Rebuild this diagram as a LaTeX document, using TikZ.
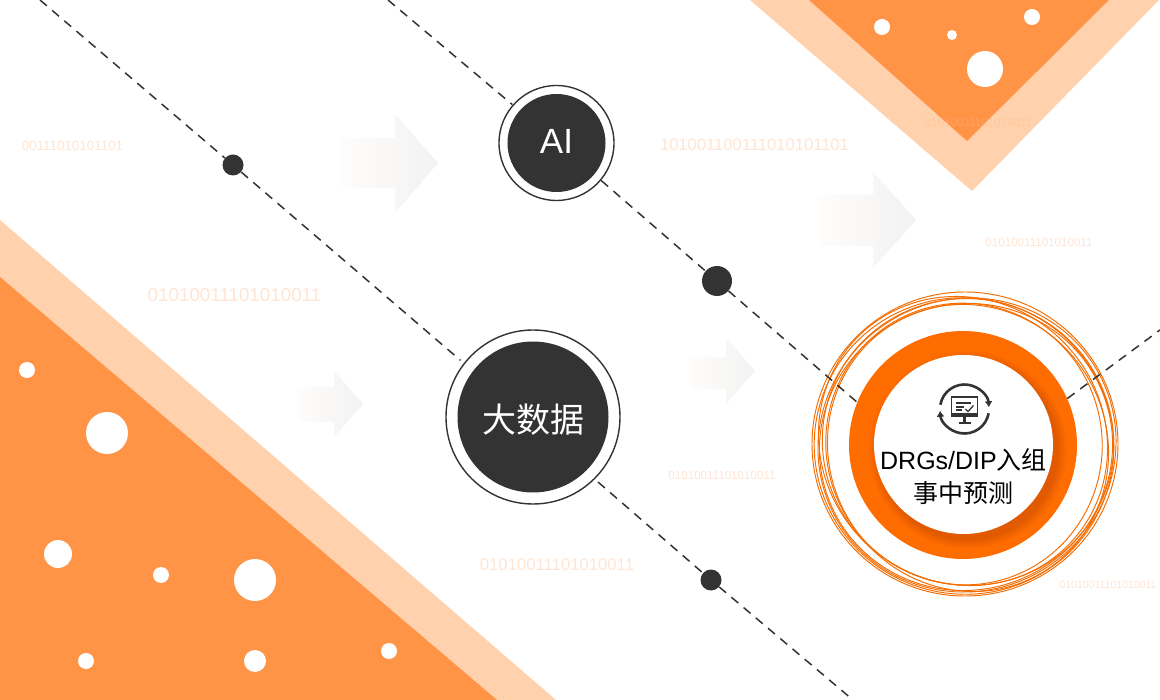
\documentclass[tikz,border=0pt]{standalone}
\usepackage{fontspec}
\setmainfont{Liberation Sans}
\newfontfamily\cjk{Noto Sans CJK SC}
\usetikzlibrary{arrows.meta}
\definecolor{deeporange}{HTML}{FF9447}
\definecolor{lightorange}{HTML}{FFD1AD}
\definecolor{ringorange}{HTML}{FF6D00}
\definecolor{wireorange}{HTML}{F56C00}
\definecolor{hubdark}{HTML}{333333}
\definecolor{bitcolor}{HTML}{FFB98A}
\definecolor{palestart}{HTML}{FFFDFB}
\definecolor{paleend}{HTML}{F2F2F2}
\begin{document}
\begin{tikzpicture}[
  x=1pt,y=-1pt,
  link/.style={dash pattern=on 9pt off 7pt,line width=1.5pt,draw=hubdark},
  joint/.style={circle,fill=hubdark,inner sep=0pt},
  hubring/.style={circle,draw=hubdark,line width=1.4pt,fill=white,inner sep=0pt},
  hubcore/.style={circle,fill=hubdark,inner sep=0pt},
  hubtext/.style={text=white,inner sep=0pt},
  bits/.style={text=bitcolor,text opacity=0.37,inner sep=0pt},
  palearrow/.style={left color=palestart,right color=paleend,draw=none},
  wire/.style={draw=wireorange,line width=0.95pt},
  iconline/.style={draw=hubdark,line width=2.6pt},
]
  \useasboundingbox (0,0) rectangle (1160,700);
  \fill[white] (0,0) rectangle (1160,700);
  % corner bands
  \fill[lightorange] (0,220) -- (556,700) -- (0,700) -- cycle;
  \fill[deeporange]  (0,277) -- (497,700) -- (0,700) -- cycle;
  \fill[lightorange] (750,0) -- (972,191) -- (1159,0) -- cycle;
  \fill[deeporange]  (809,0) -- (967,141) -- (1109,0) -- cycle;
  \foreach \px/\py/\pr in {27/370/8,107/433/21,58/554/14,161/575/8,255/580/21,86/661/8,255/661/11,389/651/8,
                           882/27/8,952/35/5,1032/17/8,985/69/18}
    \fill[white] (\px,\py) circle [radius=\pr];
  % arrows
  \shade[palearrow] (340,138) -- (395,138) -- (395,114) -- (438,163) -- (395,213) -- (395,188) -- (340,188) -- cycle;
  \shade[palearrow] (818,195) -- (873,195) -- (873,172) -- (916,220) -- (873,268) -- (873,246) -- (818,246) -- cycle;
  \shade[palearrow] (297,387) -- (334,387) -- (334,371) -- (363,404) -- (334,437) -- (334,422) -- (297,422) -- cycle;
  \shade[palearrow] (690,357) -- (726,357) -- (726,338) -- (755,371) -- (726,404) -- (726,389) -- (690,389) -- cycle;
  % binary strings
  \node[bits,font=\fontsize{13.4}{13}\selectfont]   (bitsa) at (72.5,146)  {00111010101101};
  \node[bits,font=\fontsize{16.6}{16}\selectfont]   (bitsb) at (754.5,145) {101001100111010101101};
  \node[bits,font=\fontsize{18.8}{18}\selectfont]   (bitsc) at (234.5,295) {01010011101010011};
  \node[bits,font=\fontsize{16.7}{16}\selectfont]   (bitsd) at (557,565)   {01010011101010011};
  \node[bits,font=\fontsize{11.6}{11}\selectfont]   (bitse) at (722,476)   {01010011101010011};
  \node[bits,font=\fontsize{11.6}{11}\selectfont]   (bitsf) at (978.5,123) {01010011101010011};
  \node[bits,font=\fontsize{11.6}{11}\selectfont]   (bitsg) at (1039,243)  {01010011101010011};
  \node[bits,font=\fontsize{10.5}{10}\selectfont]   (bitsh) at (1108,585)  {01010011101010011};
  % hubs
  \node[joint,minimum size=21pt] (jointa) at (233,165) {};
  \node[joint,minimum size=30pt] (jointb) at (717,281) {};
  \node[joint,minimum size=21pt] (jointc) at (711,580) {};
  \node[hubring,minimum size=115pt,outer sep=1pt] (airing) at (556.5,143) {};
  \node[hubcore,minimum size=98pt] (ai) at (556.5,143) {};
  \node[hubtext,font=\fontsize{35}{35}\selectfont] (aitext) at (556.5,141) {AI};
  \node[hubring,minimum size=174pt,outer sep=5pt] (dataring) at (533,417) {};
  \node[hubcore,minimum size=151pt] (data) at (533,417) {};
  \node[hubtext,font=\cjk\fontsize{34}{34}\selectfont] (datatext) at (533,420) {大数据};
  % target ring
  \node[circle,fill=ringorange,inner sep=0pt,minimum size=228pt] (target) at (963,445) {};
  \foreach \sr in {90,91,...,99}
    \fill[black,opacity=0.013] (968,450) circle [radius=\sr];
  \node[circle,fill=white,inner sep=0pt,minimum size=179pt] (targetcore) at (963.5,444.5) {};
  \foreach \cx/\cy/\xr/\yr/\rot in {965/444/153/152/0,967/445/150/146/30,964/446/148/150/70,968/442/146/143/-20,
                                    966/447/143/147/110,963/441/141/148/45,968/448/145/139/-60,964/444/138/141/15}
    \draw[wire] (\cx,\cy) ellipse [x radius=\xr,y radius=\yr,rotate=\rot];
  % connectors
  \coordinate (starta) at (40,0);
  \coordinate (startb) at (388,0);
  \coordinate (enda) at (853,700);
  \coordinate (endb) at (1160,330);
  \draw[link] (starta) -- (jointa);
  \draw[link] (jointa) -- (dataring.142);
  \draw[link] (dataring.-45) -- (jointc);
  \draw[link] (jointc) -- (enda);
  \draw[link] (startb) -- (airing.139);
  \draw[link] (airing.-40) -- (jointb);
  \draw[link] (jointb) -- (target.158);
  \draw[link] (target.24.5) -- (endb);
  % icon
  \begin{scope}[shift={(964.5,409)},y=1pt]
    \draw[iconline,-{Latex[length=6pt,width=8pt]}] (170:24.5) arc (170:4:24.5);
    \draw[iconline,-{Latex[length=6pt,width=8pt]}] (-10:24.5) arc (-10:-176:24.5);
    \draw[draw=hubdark,line width=1.8pt] (-13,12) rectangle (13,-7);
    \draw[draw=hubdark,line width=2.2pt] (-13,-5.5) -- (13,-5.5);
    \draw[draw=hubdark,line width=1.1pt] (-9,6) -- (6,6) (-9,2) -- (-1,2) (-9,-1) -- (-3,-1);
    \draw[draw=hubdark,line width=1.3pt] (1,0) -- (3.5,-2.5) -- (9,3.5);
    \draw[draw=hubdark,line width=2.4pt] (0,-7) -- (0,-13) (-6,-14) -- (6,-14);
  \end{scope}
  \node[inner sep=0pt,align=center,text=black,font=\fontsize{25}{33}\selectfont] (label) at (963.5,476.5)
    {DRGs/DIP{\cjk 入组}\\{\cjk 事中预测}};
\end{tikzpicture}
\end{document}
